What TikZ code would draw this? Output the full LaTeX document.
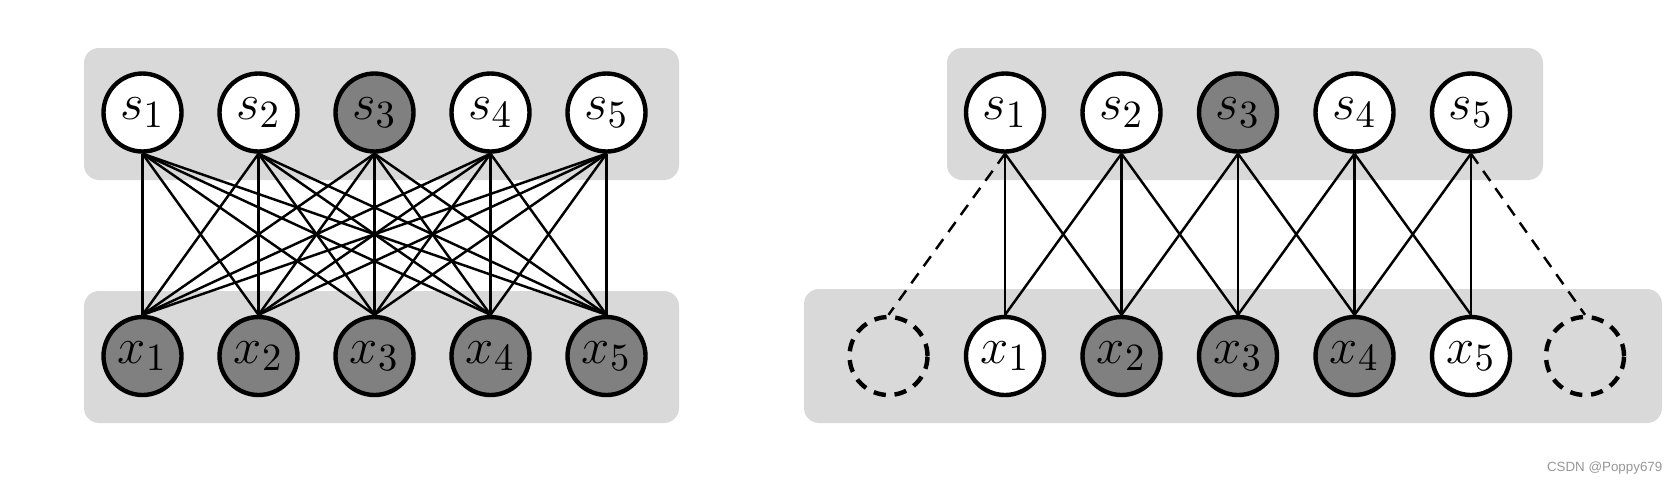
\documentclass[tikz,border=0pt]{standalone}
\usepackage{amsmath}
\usepackage{fontspec}
\usepackage{xcolor}
\usepackage{tikz}
\usetikzlibrary{
    arrows.meta,
    positioning,
    calc
}
\newfontfamily\marksans{Liberation Sans}
\definecolor{panelgray}{RGB}{217,217,217}
\definecolor{nodegray}{RGB}{128,128,128}
\definecolor{markgray}{RGB}{150,150,150}

\begin{document}
\begin{tikzpicture}[
        unit/.style={
            circle,
            draw,
            line width=1.25pt,
            minimum size=0.78cm,
            inner sep=0pt,
            font=\fontsize{15}{17}\selectfont
        },
        obs/.style={unit, fill=nodegray},
        hid/.style={unit, fill=white},
        ghost/.style={
            circle,
            draw,
            line width=1.25pt,
            dash pattern=on 3.5pt off 2.5pt,
            minimum size=0.78cm
        },
        link/.style={line width=0.7pt},
        dlink/.style={link, dash pattern=on 3.5pt off 2.5pt},
        panel/.style={fill=panelgray, rounded corners=0.15cm}
    ]

    \useasboundingbox (0,0) rectangle (16.8,-4.84);

    % left: every s linked to every x
    \fill[panel] (0.84,-0.48) rectangle (6.79,-1.80);
    \fill[panel] (0.84,-2.91) rectangle (6.79,-4.23);

    \foreach \i/\c in {1/hid,2/hid,3/obs,4/hid,5/hid}
        \node[\c] (ls\i) at ({1.425+1.16*(\i-1)},-1.125) {$s_{\i}$};
    \foreach \i in {1,...,5}
        \node[obs] (lx\i) at ({1.425+1.16*(\i-1)},-3.56) {$x_{\i}$};

    \foreach \i in {1,...,5}
        \foreach \j in {1,...,5}
            \draw[link] (ls\i.south) -- (lx\j.north);

    % right: each s linked to its neighbours only
    \fill[panel] (9.47,-0.48) rectangle (15.43,-1.80);
    \fill[panel] (8.04,-2.89) rectangle (16.62,-4.23);

    \foreach \i/\c in {1/hid,2/hid,3/obs,4/hid,5/hid}
        \node[\c] (rs\i) at ({10.05+1.165*(\i-1)},-1.125) {$s_{\i}$};
    \foreach \i/\c in {1/hid,2/obs,3/obs,4/obs,5/hid}
        \node[\c] (rx\i) at ({10.05+1.165*(\i-1)},-3.56) {$x_{\i}$};
    \node[ghost] (rx0) at (8.885,-3.56) {};
    \node[ghost] (rx6) at (15.85,-3.56) {};

    \foreach \i in {1,...,5}
        \draw[link] (rs\i.south) -- (rx\i.north);
    \foreach \i [evaluate=\i as \n using int(\i+1)] in {1,...,4} {
        \draw[link] (rs\i.south) -- (rx\n.north);
        \draw[link] (rs\n.south) -- (rx\i.north);
    }
    \draw[dlink] (rs1.south) -- (rx0.north);
    \draw[dlink] (rs5.south) -- (rx6.north);

    \node[anchor=east, inner sep=0pt, text=markgray,
          font=\marksans\fontsize{3.8}{4.5}\selectfont]
        (mark) at (16.63,-4.68) {CSDN @Poppy679};

\end{tikzpicture}
\end{document}
